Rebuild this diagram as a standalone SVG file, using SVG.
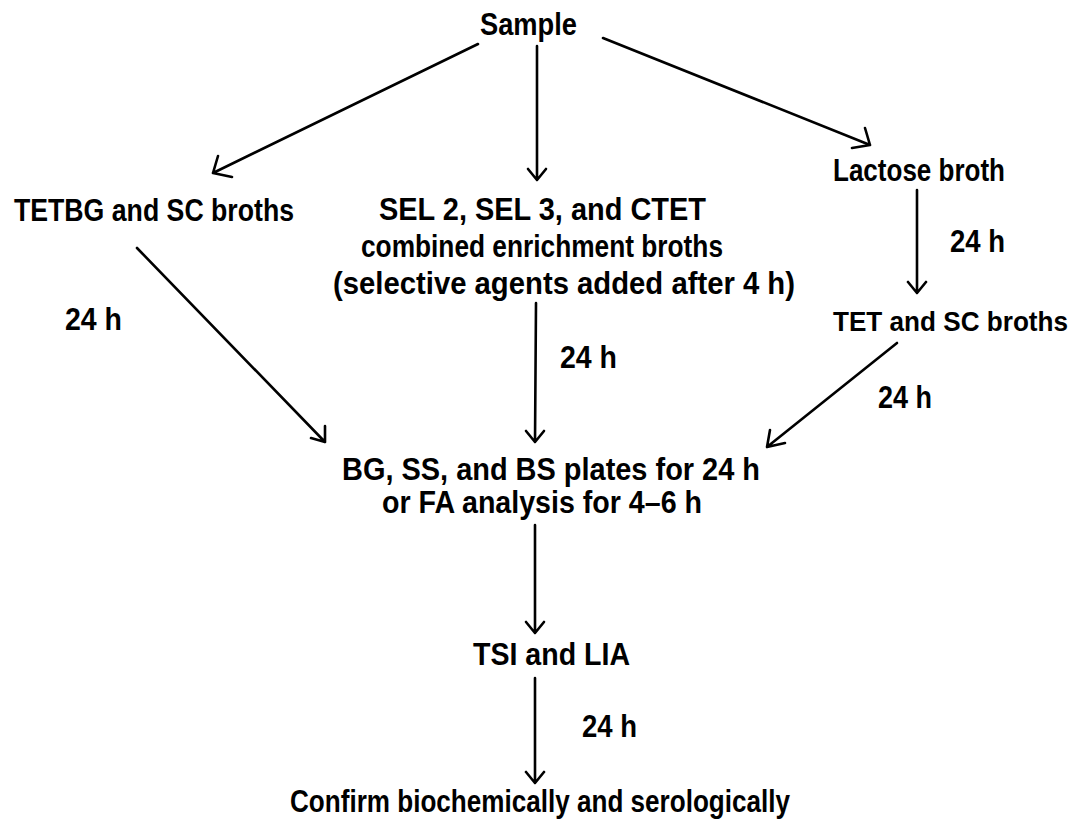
<svg xmlns="http://www.w3.org/2000/svg" width="1079" height="824" viewBox="0 0 1079 824">
<style>
text{font-family:"Liberation Sans",Arial,sans-serif;font-weight:bold;font-size:31px;fill:#000;text-anchor:start}
.ln{stroke:#000;stroke-width:2.6;fill:none;stroke-linecap:round;stroke-linejoin:round}
</style>
<rect width="1079" height="824" fill="#fff"/>
<g id="connectors">
<path class="ln" d="M478,44 L213,173 M218,156 L213,173 L232,177"/>
<path class="ln" d="M537,46 L537,180 M528,169 L537,180 L546,169"/>
<path class="ln" d="M603,38 L870,145 M865,128 L870,145 L852,148"/>
<path class="ln" d="M917,190 L917,293 M908,282 L917,293 L926,282"/>
<path class="ln" d="M137,248 L325,442 M325,426 L325,442 L311,438"/>
<path class="ln" d="M536,303 L535,442 M526,431 L535,442 L544,431"/>
<path class="ln" d="M897,343 L767,447 M770,430 L767,447 L785,443"/>
<path class="ln" d="M535,525 L535,633 M526,622 L535,633 L544,622"/>
<path class="ln" d="M535,678 L535,783 M526,772 L535,783 L544,772"/>
</g>
<g id="sample"><text x="480" y="35" textLength="97" lengthAdjust="spacingAndGlyphs">Sample</text></g>
<g id="tetbg"><text x="14" y="221" textLength="280" lengthAdjust="spacingAndGlyphs">TETBG and SC broths</text></g>
<g id="sel">
<text x="379" y="220" textLength="327" lengthAdjust="spacingAndGlyphs">SEL 2, SEL 3, and CTET</text>
<text x="361" y="257" textLength="362" lengthAdjust="spacingAndGlyphs">combined enrichment broths</text>
<text x="333" y="294" textLength="462" lengthAdjust="spacingAndGlyphs">(selective agents added after 4 h)</text>
</g>
<g id="lactose"><text x="833" y="181" textLength="172" lengthAdjust="spacingAndGlyphs">Lactose broth</text></g>
<g id="tet"><text x="833" y="331" style="font-size:27px" textLength="235" lengthAdjust="spacingAndGlyphs">TET and SC broths</text></g>
<g id="plates">
<text x="342" y="480" textLength="418" lengthAdjust="spacingAndGlyphs">BG, SS, and BS plates for 24 h</text>
<text x="382" y="513" textLength="320" lengthAdjust="spacingAndGlyphs">or FA analysis for 4–6 h</text>
</g>
<g id="tsi"><text x="473" y="665" textLength="157" lengthAdjust="spacingAndGlyphs">TSI and LIA</text></g>
<g id="confirm"><text x="290" y="812" textLength="500" lengthAdjust="spacingAndGlyphs">Confirm biochemically and serologically</text></g>
<g id="labels">
<text x="950" y="252" textLength="55" lengthAdjust="spacingAndGlyphs">24 h</text>
<text x="65" y="330" textLength="57" lengthAdjust="spacingAndGlyphs">24 h</text>
<text x="560" y="368" textLength="57" lengthAdjust="spacingAndGlyphs">24 h</text>
<text x="878" y="408" textLength="54" lengthAdjust="spacingAndGlyphs">24 h</text>
<text x="582" y="737" textLength="55" lengthAdjust="spacingAndGlyphs">24 h</text>
</g>
</svg>
